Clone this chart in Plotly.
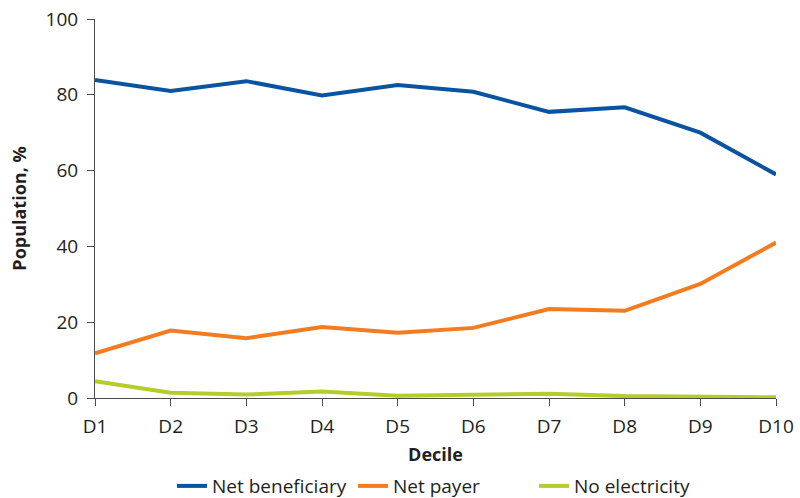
import plotly.graph_objects as go

deciles = ["D1", "D2", "D3", "D4", "D5", "D6", "D7", "D8", "D9", "D10"]
net_beneficiary = [83.9, 81.0, 83.6, 79.8, 82.6, 80.8, 75.5, 76.7, 70.0, 59.0]
net_payer = [11.8, 17.8, 15.8, 18.7, 17.2, 18.5, 23.5, 23.0, 30.1, 41.0]
no_electricity = [4.4, 1.4, 0.9, 1.7, 0.6, 0.8, 1.1, 0.5, 0.3, 0.2]

txt = "#231f20"
font_family = "Open Sans, Noto Sans, sans-serif"

fig = go.Figure()
fig.add_trace(go.Scatter(x=deciles, y=net_beneficiary, mode="lines", name="Net beneficiary",
                         line=dict(color="#0a53a1", width=4)))
fig.add_trace(go.Scatter(x=deciles, y=net_payer, mode="lines", name="Net payer",
                         line=dict(color="#f47b20", width=4)))
fig.add_trace(go.Scatter(x=deciles, y=no_electricity, mode="lines", name="No electricity",
                         line=dict(color="#b5cc2d", width=4)))

fig.update_layout(
    width=800, height=498,
    margin=dict(l=95, r=24, t=19, b=100),
    plot_bgcolor="white", paper_bgcolor="white",
    font=dict(family=font_family, size=18, color=txt),
    showlegend=True,
    legend=dict(orientation="h", x=172 / 800, xanchor="left", xref="container",
                y=0.024, yanchor="middle", yref="container",
                entrywidth=136, entrywidthmode="pixels",
                font=dict(size=19, color=txt), traceorder="normal"),
    xaxis=dict(
        type="category", range=[0, 9], showgrid=False, zeroline=False,
        showline=True, linecolor="#4d4d4d", linewidth=1, automargin=False,
        ticks="outside", ticklen=7, tickcolor="#4d4d4d", ticklabelstandoff=4,
        tickfont=dict(size=19, color=txt),
        title=dict(text="<b>Decile</b>", font=dict(size=18, color=txt), standoff=10),
    ),
    yaxis=dict(
        range=[0, 100], dtick=20, showgrid=False, zeroline=False,
        showline=True, linecolor="#4d4d4d", linewidth=1, automargin=False,
        ticks="outside", ticklen=7, tickcolor="#4d4d4d", ticklabelstandoff=5,
        tickfont=dict(size=19, color=txt),
        title=dict(text="<b>Population, %</b>", font=dict(size=18, color=txt), standoff=14),
    ),
)

# drop the default body margin so the figure fills the window
fig.write_html("out.html", config={"displayModeBar": False},
               post_script="document.body.style.margin='0';document.body.style.overflow='hidden';")
